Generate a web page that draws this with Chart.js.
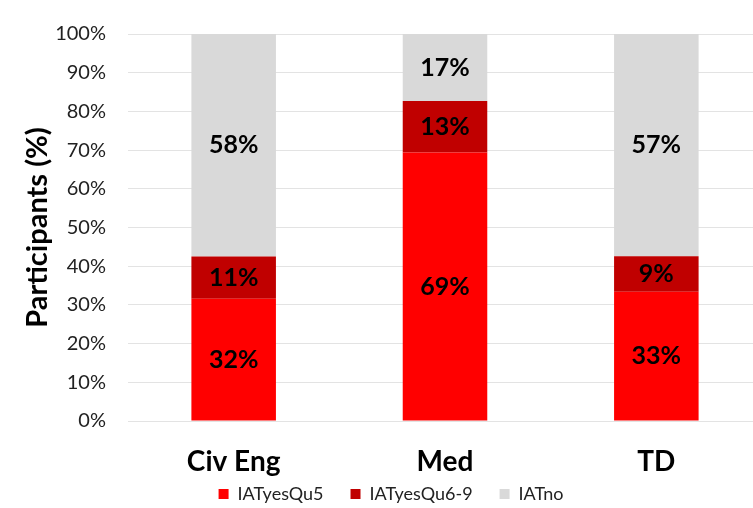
<!DOCTYPE html>
<html lang="en">
<head>
    <meta charset="UTF-8">
    <title>Participants by group</title>
    <script src="https://cdn.jsdelivr.net/npm/chart.js"></script>
    <style>
        html, body { margin: 0; padding: 0; overflow: hidden; background: #fff; }
        canvas { display: block; }
    </style>
</head>
<body>
    <canvas id="participantsChart" width="762" height="508"></canvas>

    <script>
        const groups = ['Civ Eng', 'Med', 'TD'];
        const seriesNames = ['IATyesQu5', 'IATyesQu6-9', 'IATno'];
        const yesQu5 = [31.6, 69.4, 33.4];
        const yesQu6to9 = [10.9, 13.3, 9.2];
        const iatNo = [57.5, 17.3, 57.4];
        const seriesColors = ['#FF0000', '#C00000', '#D9D9D9'];

        const fontFamily = 'Lato, "Open Sans", sans-serif';

        // writes the rounded percentage in the middle of each bar segment
        const segmentLabels = {
            id: 'segmentLabels',
            afterDatasetsDraw(chart) {
                const ctx = chart.ctx;
                ctx.save();
                ctx.font = 'bold 25px ' + fontFamily;
                ctx.fillStyle = '#000';
                ctx.textAlign = 'center';
                ctx.textBaseline = 'middle';
                chart.data.datasets.forEach((ds, i) => {
                    const meta = chart.getDatasetMeta(i);
                    meta.data.forEach((bar, j) => {
                        const midY = (bar.y + bar.base) / 2;
                        ctx.fillText(Math.round(ds.data[j]) + '%', bar.x, midY);
                    });
                });
                ctx.restore();
            }
        };

        const ctx = document.getElementById('participantsChart').getContext('2d');
        new Chart(ctx, {
            type: 'bar',
            data: {
                labels: groups,
                datasets: [
                    { label: seriesNames[0], data: yesQu5, backgroundColor: seriesColors[0] },
                    { label: seriesNames[1], data: yesQu6to9, backgroundColor: seriesColors[1] },
                    { label: seriesNames[2], data: iatNo, backgroundColor: seriesColors[2] }
                ]
            },
            options: {
                responsive: false,
                animation: false,
                categoryPercentage: 1,
                barPercentage: 0.4,
                layout: { padding: { top: 30, left: 20, right: 0, bottom: -5 } },
                plugins: {
                    legend: {
                        position: 'bottom',
                        labels: {
                            boxWidth: 10,
                            boxHeight: 10,
                            padding: 27,
                            color: '#222',
                            font: { family: fontFamily, size: 18 }
                        }
                    },
                    tooltip: { enabled: false }
                },
                scales: {
                    x: {
                        stacked: true,
                        grid: { display: false },
                        border: { display: false },
                        ticks: {
                            color: '#000',
                            padding: 16,
                            font: { family: fontFamily, size: 28, weight: 'bold' }
                        },
                        afterFit(scale) {
                            scale.height = 37;
                            // labels hang below the short axis box, so don't clip them
                            scale._computeLabelArea = () => null;
                        }
                    },
                    y: {
                        stacked: true,
                        min: 0,
                        max: 100,
                        ticks: {
                            stepSize: 10,
                            padding: 22,
                            color: '#222',
                            font: { family: fontFamily, size: 20 },
                            callback: v => v + '%'
                        },
                        grid: { color: '#E3E3E3', drawTicks: false },
                        border: { display: false },
                        title: {
                            display: true,
                            text: 'Participants (%)',
                            color: '#000',
                            font: { family: fontFamily, size: 29, weight: 'bold' },
                            padding: 0
                        },
                        afterFit(scale) { scale.width = 108; }
                    }
                }
            },
            plugins: [segmentLabels]
        });
    </script>
</body>
</html>
